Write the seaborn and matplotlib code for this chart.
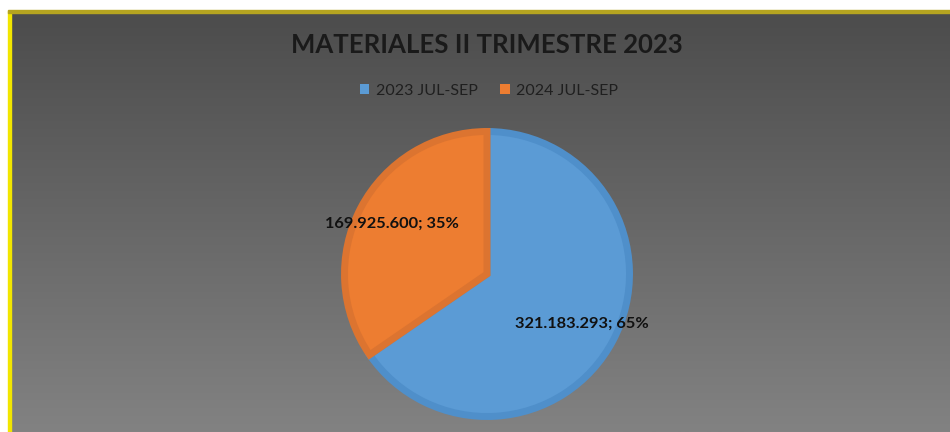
import seaborn as sns
import matplotlib.pyplot as plt
import numpy as np
from matplotlib.patches import Rectangle

# data
periods = ['2023 JUL-SEP', '2024 JUL-SEP']
amounts = [321183293, 169925600]
slice_colors = ['#5b9bd5', '#ed7d31']
edge_colors = ['#4f8fca', '#dc7430']

sns.set_theme(style='white')
plt.rcParams['font.family'] = ['Lato', 'DejaVu Sans']

fig = plt.figure(figsize=(9.5, 4.32), dpi=100)
fig.patch.set_facecolor('white')

# gray gradient background, starting below the white margins
bg = fig.add_axes([10 / 950, 0, 940 / 950, 420 / 432])
grad = np.linspace(0, 1, 256).reshape(-1, 1)
bg.imshow(grad, aspect='auto', cmap=sns.blend_palette(['#4c4c4c', '#828282'], as_cmap=True),
          extent=[0, 1, 0, 1], origin='upper')
bg.set_axis_off()

# yellow frame on top and left
fig.patches.append(Rectangle((8 / 950, 0), 2.5 / 950, 421 / 432, transform=fig.transFigure,
                             color='#f2e600', zorder=5))
fig.patches.append(Rectangle((8 / 950, 419 / 432), 942 / 950, 2.5 / 432, transform=fig.transFigure,
                             color='#b5a420', zorder=5))

fig.text(487 / 950, 1 - 45 / 432, 'MATERIALES II TRIMESTRE 2023', ha='center', va='center',
         fontsize=18.5, fontweight='bold', color='#1a1a1a')

ax = fig.add_axes([(487 - 150) / 950, (432 - 274 - 150) / 432, 300 / 950, 300 / 432])
label_iter = iter(amounts)


def fmt(pct):
    v = next(label_iter)
    return f"{v:,.0f}".replace(',', '.') + f"; {pct:.0f}%"


wedges, texts, autotexts = ax.pie(amounts, colors=slice_colors, startangle=90, counterclock=False,
                                  radius=0.95, autopct=fmt, pctdistance=0.75,
                                  wedgeprops=dict(linewidth=5))
for w, ec in zip(wedges, edge_colors):
    w.set_edgecolor(ec)
for t in autotexts:
    t.set_fontsize(11.8)
    t.set_fontweight('bold')
    t.set_color('#111111')
ax.set_xlim(-1, 1)
ax.set_ylim(-1, 1)
ax.set_aspect('equal')
ax.set_axis_off()

leg = fig.legend(wedges, periods, loc='center', bbox_to_anchor=(489 / 950, 1 - 91 / 432), ncol=2,
                 frameon=False, fontsize=11.5, handlelength=0.6, handleheight=0.6,
                 handletextpad=0.4, columnspacing=1.4)
for t in leg.get_texts():
    t.set_color('#1f1f1f')
for h in leg.legend_handles:
    h.set_linewidth(0)

fig.savefig('out.png', dpi=100)
